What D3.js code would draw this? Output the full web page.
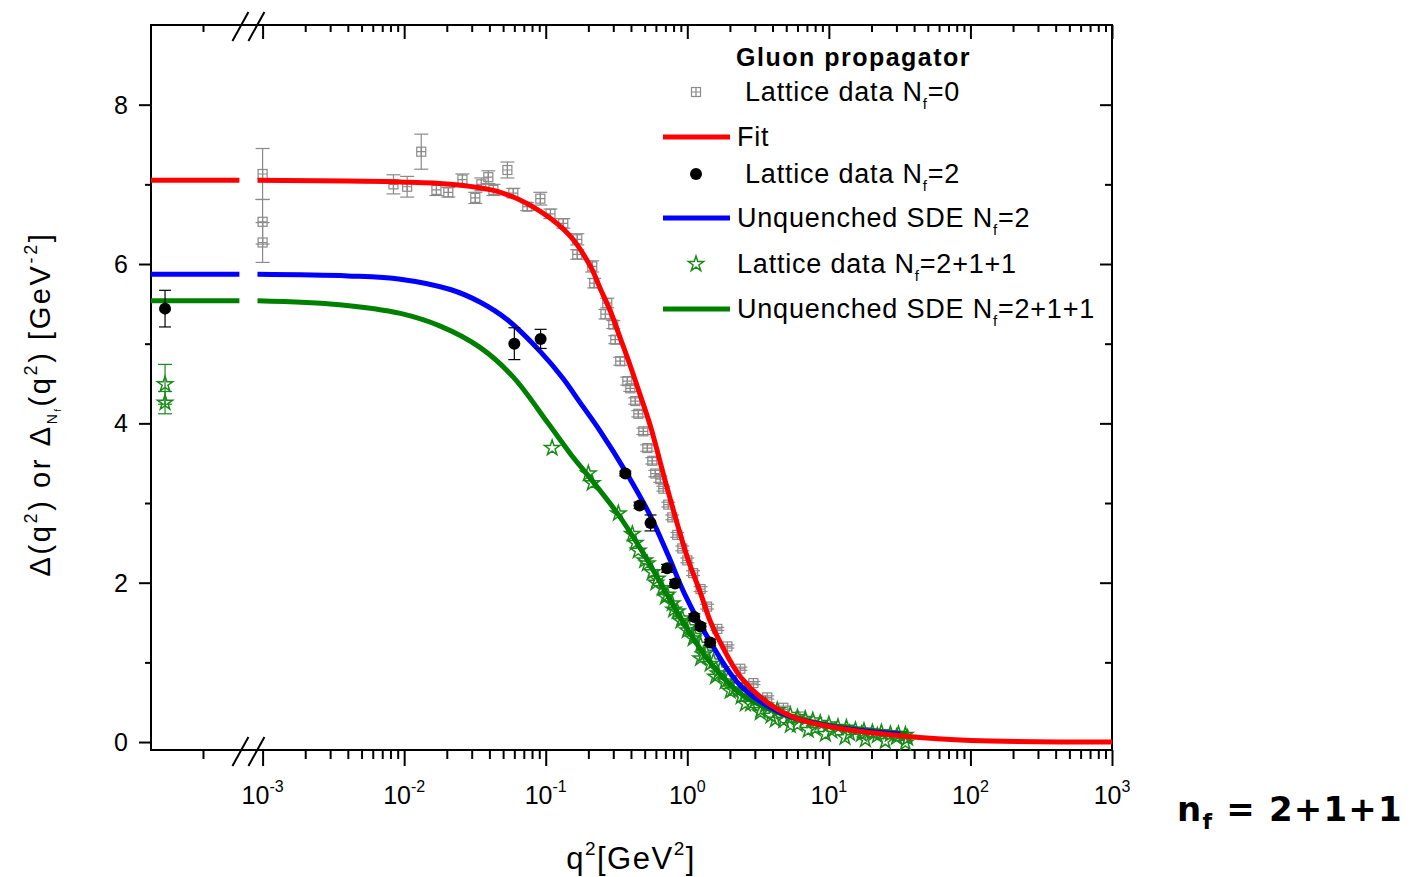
<!DOCTYPE html>
<html>
<head>
<meta charset="utf-8">
<script src="https://cdn.jsdelivr.net/npm/d3@7"></script>
<style>
  body { margin: 0; background: #fff; }
  text { font-family: "Liberation Sans", Arial, sans-serif; }
</style>
</head>
<body>
<div id="chart"></div>
<script>
// ---- data: [q2, value] or [q2, value, error] ----
var fitCurve = [[9.2e-4,7.05],[9.4e-3,7.03],[0.0212,7.00],[0.0478,6.90],[0.0916,6.66],[0.149,6.35],
  [0.207,5.97],[0.243,5.69],[0.286,5.41],[0.336,5.07],[0.396,4.72],[0.466,4.35],[0.548,3.97],
  [0.723,3.18],[1.0,2.32],[1.24,1.87],[1.45,1.52],[1.71,1.25],[2.37,0.82],[3.86,0.47],[6.28,0.28],
  [14.2,0.15],[31.9,0.08],[101,0.02],[1000,0.0]];
var sdeNf2 = [[9.2e-4,5.87],[4e-3,5.85],[9.4e-3,5.81],[0.0212,5.68],[0.0345,5.52],[0.0536,5.30],
  [0.0916,4.90],[0.133,4.56],[0.175,4.26],[0.243,3.90],[0.371,3.38],[0.548,2.84],[0.734,2.34],
  [0.968,1.84],[1.45,1.26],[2.37,0.71],[4.54,0.37],[10.2,0.20],[31.9,0.10]];
var sdeNf4 = [[9.2e-4,5.54],[3.5e-3,5.49],[9.4e-3,5.38],[0.018,5.22],[0.0345,4.95],[0.059,4.58],
  [0.104,4.00],[0.155,3.58],[0.200,3.34],[0.321,2.87],[0.466,2.43],[0.645,2.00],[0.968,1.46],
  [1.45,1.00],[2.37,0.61],[4.54,0.36],[10.2,0.21],[31.9,0.11],[36,0.10]];

var latNf0 = [[1.0e-3,7.13,0.32],[1.0e-3,6.53,0.28],[1.0e-3,6.27,0.25],
  [8.4e-3,7.00,0.12],[0.0105,6.97,0.13],[0.0132,7.41,0.22],[0.0169,6.93,0.07],[0.0205,6.90,0.06],
  [0.0258,7.06,0.07],[0.0318,6.83,0.07],[0.0351,7.00,0.08],[0.0393,7.09,0.08],[0.0427,6.93,0.07],
  [0.0536,7.18,0.10],[0.059,6.89,0.06],[0.0741,6.72,0.05],[0.0916,6.82,0.08],[0.108,6.63,0.06],
  [0.133,6.51,0.06],[0.167,6.31,0.07],[0.167,6.12,0.06],[0.213,5.97,0.07],[0.220,5.76,0.06],
  [0.272,5.51,0.06],[0.264,5.37,0.06],[0.300,5.24,0.05],[0.310,5.05,0.05],[0.336,4.78,0.05],
  [0.377,4.53,0.05],[0.396,4.44,0.04],[0.429,4.28,0.04],[0.451,4.12,0.04],[0.489,3.90,0.04],
  [0.522,3.69,0.04],[0.566,3.53,0.04],[0.594,3.37,0.04],[0.645,3.30,0.04],[0.677,3.18,0.03],
  [0.734,2.98,0.03],[0.783,2.82,0.03],[0.850,2.60,0.03],[0.922,2.43,0.03],[1.0,2.28,0.03],
  [1.10,2.12,0.03],[1.24,1.92,0.03],[1.38,1.70,0.03],[1.63,1.42,0.02],[1.92,1.20,0.02],
  [2.37,0.92,0.02],[2.93,0.74,0.02],[3.67,0.56,0.02],[4.77,0.43,0.02],[6.28,0.32,0.02]];

var latNf2Left = [[2.7e-5,5.44,0.23]];
var latNf2 = [[0.060,5.00,0.20],[0.092,5.06,0.12],[0.365,3.37,0.03],[0.46,2.97,0.04],[0.55,2.75,0.10],
  [0.72,2.18,0.05],[0.82,1.99,0.05],[1.12,1.57,0.04],[1.24,1.45,0.04],[1.45,1.25,0.04]];

var latNf4Left = [[2.7e-5,4.49,0.25],[2.7e-5,4.26,0.14]];
var latNf4 = [[0.111,3.69],[0.200,3.37],[0.213,3.25],[0.326,2.87],[0.409,2.61],[0.429,2.50],
  [0.522,2.24],[0.566,2.13],[0.614,2.05],[0.666,1.93],[0.723,1.85],[0.783,1.74],[0.850,1.64],
  [0.922,1.55],[1.02,1.44],[1.12,1.33],[1.24,1.22],[1.36,1.12],[1.53,1.01],[1.71,0.91],[1.95,0.80],
  [2.22,0.71],[2.57,0.62],[3.02,0.53],[3.56,0.46],[4.32,0.40],[5.34,0.34],[6.81,0.29],[8.69,0.24],
  [11.6,0.19],[15.4,0.15],[20.3,0.12],[27.2,0.10],[34.7,0.09],
  [0.45,2.40],[0.50,2.28],[0.60,2.00],[0.70,1.82],[0.80,1.66],[0.90,1.52],[1.00,1.40],[1.10,1.30],
  [1.30,1.10],[1.45,0.98],[1.65,0.86],[1.85,0.76],[2.10,0.66],[2.40,0.57],[2.80,0.48],[3.30,0.40],
  [3.90,0.33],[4.80,0.27],[6.00,0.22],[8.00,0.17],[10.5,0.14],[14.0,0.11],[17.0,0.10],[22.0,0.08],
  [30.0,0.06],[6.00,0.31],[7.70,0.27],[10.0,0.22],[13.3,0.18],[17.7,0.14],[23.5,0.12],[31.0,0.10],
  [1.24,1.05],[1.58,0.82],[2.01,0.64],[2.57,0.48],[3.28,0.37],[4.18,0.28],[5.34,0.21],[7.15,0.15],
  [9.45,0.10],[13.0,0.06],[18.1,0.03],[25.0,0.01],[34.7,-0.01],[36.0,0.05]];

var leftSpan = [0, 1.7e-4];          // q2 range of the curves on the left piece
var leftTicks = [1e-4];
var xMajor = [1e-3, 1e-2, 1e-1, 1, 10, 100, 1000];
var xExp = ["-3", "-2", "-1", "0", "1", "2", "3"];
var yMajor = [0, 2, 4, 6, 8];
var yMinor = [1, 3, 5, 7];

// ---- chart ----
var svg = d3.select("#chart").append("svg")
  .attr("width", 1417).attr("height", 877);

var yScale = d3.scaleLinear().domain([-0.1, 9.0]).range([750, 25]);
var xLeft = d3.scaleLinear().domain([0, 2e-4]).range([151, 255]);
var xRight = d3.scaleLog().domain([1e-3, 1e3]).range([262.6, 1112]);

var xMinor = [];
xMajor.slice(0, -1).forEach(function(d) {
  for (var k = 2; k < 10; k++) xMinor.push(d * k);
});

function ticks(scale, values, orient, pos, size) {
  var ax = (orient == "bottom" ? d3.axisBottom(scale) : d3.axisLeft(scale))
    .tickValues(values).tickSize(size).tickFormat("");
  var g = svg.append("g")
    .attr("transform", orient == "bottom" ? "translate(0," + pos + ")" : "translate(" + pos + ",0)")
    .call(ax);
  g.select(".domain").remove();
  g.selectAll("line").attr("stroke", "#000").attr("stroke-width", 2);
}

// text with sub/superscripts: segs = [[text, size, shift], ...]
function richText(g, segs) {
  var prev = 0;
  segs.forEach(function(s) {
    g.append("tspan").attr("font-size", s[1]).attr("dy", s[2] - prev).text(s[0]);
    prev = s[2];
  });
  return g;
}

// axis ticks
ticks(xRight, xMajor, "bottom", 750, 16);
ticks(xRight, xMinor, "bottom", 750, 9);
ticks(xLeft, leftTicks, "bottom", 750, 9);
ticks(xRight, xMajor, "bottom", 25, 14);
ticks(xRight, xMinor, "bottom", 25, 7);
ticks(xLeft, leftTicks, "bottom", 25, 7);
ticks(yScale, yMajor, "left", 151, 12);
ticks(yScale, yMinor, "left", 151, 6);
ticks(yScale, yMajor, "left", 1112, 12);
ticks(yScale, yMinor, "left", 1112, 7);

// frame
svg.append("rect").attr("x", 151).attr("y", 25).attr("width", 961).attr("height", 725)
  .attr("fill", "none").attr("stroke", "#000").attr("stroke-width", 2);

// axis break marks
var breakX = (xLeft(leftSpan[1]) + xRight(9.2e-4)) / 2;
[25, 750].forEach(function(ay) {
  [-8, 8].forEach(function(off) {
    svg.append("line")
      .attr("x1", breakX + off - 8).attr("y1", ay + 16)
      .attr("x2", breakX + off + 8).attr("y2", ay - 13)
      .attr("stroke", "#000").attr("stroke-width", 2);
  });
});

// tick labels
yMajor.forEach(function(v) {
  svg.append("text").attr("x", 128).attr("y", yScale(v)).attr("dy", "0.36em")
    .attr("text-anchor", "end").attr("font-size", 25).text(v);
});
xMajor.forEach(function(v, i) {
  var t = svg.append("text").attr("x", xRight(v)).attr("y", 804).attr("text-anchor", "middle");
  richText(t, [["10", 25, 0], [xExp[i], 16, -12]]);
});

// axis titles
richText(svg.append("text").attr("x", 631).attr("y", 869).attr("text-anchor", "middle")
  .attr("letter-spacing", 1.5),
  [["q", 31, 0], ["2", 19, -14], ["[GeV", 31, 0], ["2", 19, -14], ["]", 31, 0]]);

richText(svg.append("text").attr("transform", "translate(50,404) rotate(-90)")
  .attr("text-anchor", "middle").attr("letter-spacing", 2.6),
  [["Δ(q", 29, 0], ["2", 18, -13], [") or  Δ", 29, 0], ["N", 14, 7], ["f", 9, 11],
   ["(q", 29, 0], ["2", 18, -13], [") [GeV", 29, 0], ["-2", 18, -13], ["]", 29, 0]]);

// ---- marks ----
var lineR = d3.line().x(function(d) { return xRight(d[0]); })
  .y(function(d) { return yScale(d[1]); }).curve(d3.curveCatmullRom.alpha(0.5));
var lineL = d3.line().x(function(d) { return xLeft(d[0]); })
  .y(function(d) { return yScale(d[1]); });

function errBars(data, xs, color, cap) {
  var g = svg.append("g").attr("stroke", color).attr("stroke-width", 1.2);
  data.forEach(function(d) {
    if (d.length < 3) return;
    var x = xs(d[0]), y1 = yScale(d[1] + d[2]), y2 = yScale(d[1] - d[2]);
    g.append("line").attr("x1", x).attr("x2", x).attr("y1", y1).attr("y2", y2);
    g.append("line").attr("x1", x - cap).attr("x2", x + cap).attr("y1", y1).attr("y2", y1);
    g.append("line").attr("x1", x - cap).attr("x2", x + cap).attr("y1", y2).attr("y2", y2);
  });
}

function crossSquare(g, x, y, s, color) {
  g.append("rect").attr("x", x - s / 2).attr("y", y - s / 2).attr("width", s).attr("height", s)
    .attr("fill", "none").attr("stroke", color).attr("stroke-width", 1.2);
  g.append("path").attr("d", "M" + (x - s / 2) + "," + y + "H" + (x + s / 2) + "M" + x + "," + (y - s / 2) + "V" + (y + s / 2))
    .attr("stroke", color).attr("stroke-width", 1.2);
}

var star = d3.symbol().type(d3.symbolStar).size(72);

// Nf=0 lattice (grey)
errBars(latNf0, xRight, "#8a8a8a", 7);
var gGrey = svg.append("g");
latNf0.forEach(function(d) { crossSquare(gGrey, xRight(d[0]), yScale(d[1]), 9, "#8a8a8a"); });

// Nf=2+1+1 lattice (green stars)
errBars(latNf4Left, xLeft, "#1a8a1a", 7);
svg.append("g").selectAll("path").data(latNf4Left.map(function(d) { return [xLeft(d[0]), yScale(d[1])]; })
    .concat(latNf4.map(function(d) { return [xRight(d[0]), yScale(d[1])]; })))
  .enter().append("path")
  .attr("d", star)
  .attr("transform", function(d) { return "translate(" + d[0] + "," + d[1] + ")"; })
  .attr("fill", "none").attr("stroke", "#1a8a1a").attr("stroke-width", 1.5);

// curves
[[sdeNf4, "#008000"], [sdeNf2, "#0000ff"]].forEach(function(c) {
  svg.append("path").attr("d", lineR(c[0])).attr("fill", "none")
    .attr("stroke", c[1]).attr("stroke-width", 5);
  svg.append("path").attr("d", lineL(leftSpan.map(function(q) { return [q, c[0][0][1]]; })))
    .attr("fill", "none").attr("stroke", c[1]).attr("stroke-width", 5);
});

// Nf=2 lattice (black dots)
errBars(latNf2Left, xLeft, "#000", 6);
errBars(latNf2, xRight, "#000", 6);
svg.append("g").selectAll("circle").data(latNf2Left.map(function(d) { return [xLeft(d[0]), yScale(d[1])]; })
    .concat(latNf2.map(function(d) { return [xRight(d[0]), yScale(d[1])]; })))
  .enter().append("circle")
  .attr("cx", function(d) { return d[0]; }).attr("cy", function(d) { return d[1]; })
  .attr("r", 6).attr("fill", "#000");

// fit (red) on top
svg.append("path").attr("d", lineR(fitCurve)).attr("fill", "none")
  .attr("stroke", "#ff0000").attr("stroke-width", 5);
svg.append("path").attr("d", lineL(leftSpan.map(function(q) { return [q, fitCurve[0][1]]; })))
  .attr("fill", "none").attr("stroke", "#ff0000").attr("stroke-width", 5);

// ---- legend ----
var leg = svg.append("g").attr("letter-spacing", 0.8);
leg.append("text").attr("x", 736).attr("y", 66).attr("font-size", 25).attr("font-weight", "bold")
  .attr("letter-spacing", 1.5).text("Gluon propagator");

var gLegGrey = leg.append("g");
crossSquare(gLegGrey, 696, 92, 9, "#8a8a8a");
richText(leg.append("text").attr("x", 745).attr("y", 101), [["Lattice data N", 27, 0], ["f", 15, 8], ["=0", 27, 0]]);

leg.append("line").attr("x1", 663).attr("x2", 730).attr("y1", 137).attr("y2", 137)
  .attr("stroke", "#ff0000").attr("stroke-width", 5);
leg.append("text").attr("x", 737).attr("y", 146).attr("font-size", 27).text("Fit");

leg.append("circle").attr("cx", 696).attr("cy", 174).attr("r", 6).attr("fill", "#000");
richText(leg.append("text").attr("x", 745).attr("y", 183), [["Lattice data N", 27, 0], ["f", 15, 8], ["=2", 27, 0]]);

leg.append("line").attr("x1", 663).attr("x2", 730).attr("y1", 218).attr("y2", 218)
  .attr("stroke", "#0000ff").attr("stroke-width", 5);
richText(leg.append("text").attr("x", 737).attr("y", 227), [["Unquenched SDE N", 27, 0], ["f", 15, 8], ["=2", 27, 0]]);

leg.append("path").attr("d", star).attr("transform", "translate(696,264)")
  .attr("fill", "none").attr("stroke", "#1a8a1a").attr("stroke-width", 1.5);
richText(leg.append("text").attr("x", 737).attr("y", 273), [["Lattice data N", 27, 0], ["f", 15, 8], ["=2+1+1", 27, 0]]);

leg.append("line").attr("x1", 663).attr("x2", 730).attr("y1", 309).attr("y2", 309)
  .attr("stroke", "#008000").attr("stroke-width", 5);
richText(leg.append("text").attr("x", 737).attr("y", 318), [["Unquenched SDE N", 27, 0], ["f", 15, 8], ["=2+1+1", 27, 0]]);

// corner note
richText(svg.append("text").attr("x", 1177).attr("y", 821).attr("font-weight", "bold")
  .attr("letter-spacing", 1.2).style("font-family", "'DejaVu Sans', sans-serif"),
  [["n", 34, 0], ["f", 22, 8], [" = 2+1+1", 34, 0]]);
</script>
</body>
</html>
